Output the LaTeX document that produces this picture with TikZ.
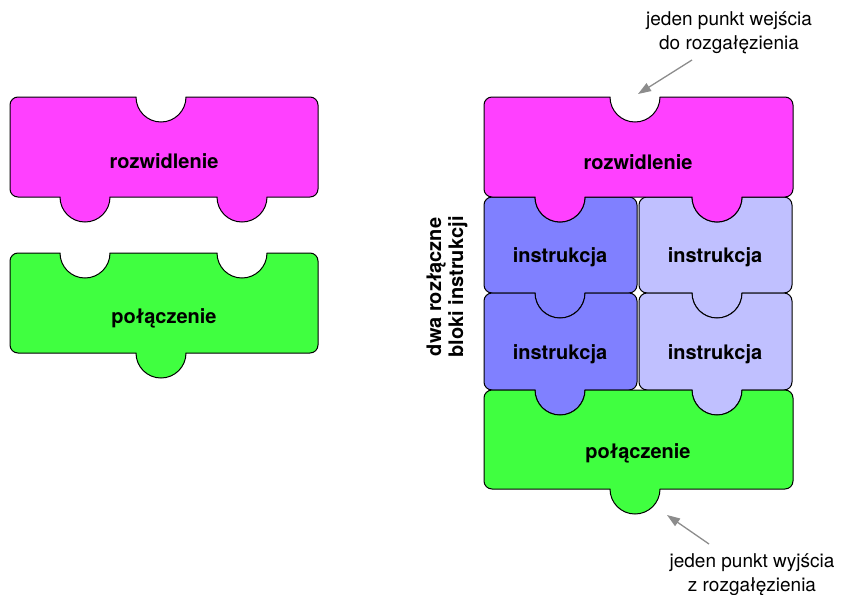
\documentclass[tikz,border=0pt]{standalone}
\usepackage{fontspec}
\setmainfont{TeX Gyre Heros}
\usetikzlibrary{arrows.meta}
\definecolor{pmag}{HTML}{FF40FF}
\definecolor{pgreen}{HTML}{40FF40}
\definecolor{pblue}{HTML}{8080FF}
\definecolor{plblue}{HTML}{C0C0FF}
\definecolor{parrow}{HTML}{8C8C8C}
% #1 fill, #2 left, #3 top, #4 width, #5 height, #6 top notches (increasing), #7 bottom tabs (decreasing)
\newcommand\puzzlepiece[7]{%
  \draw[piece,fill=#1] ({#2+8},{-#3})
    foreach \c in {#6} { -- ({#2+\c-25},{-#3}) arc[start angle=180,end angle=360,radius=25] }
    -- ({#2+#4-8},{-#3}) arc[start angle=90,end angle=0,radius=8]
    -- ({#2+#4},{-#3-#5+8}) arc[start angle=0,end angle=-90,radius=8]
    foreach \c in {#7} { -- ({#2+\c+25},{-#3-#5}) arc[start angle=0,end angle=-180,radius=25] }
    -- ({#2+8},{-#3-#5}) arc[start angle=-90,end angle=-180,radius=8]
    -- ({#2},{-#3-8}) arc[start angle=180,end angle=90,radius=8] -- cycle;}
\begin{document}
\begin{tikzpicture}[x=1pt,y=1pt,
  piece/.style={draw=black,line width=1pt},
  lbl/.style={font=\fontsize{20}{24}\selectfont\bfseries,inner sep=0pt},
  note/.style={font=\fontsize{19}{24}\selectfont,align=center,inner sep=0pt},
  arr/.style={draw=parrow,line width=1.3pt,-{Triangle[length=13pt,width=9pt]}}]
\useasboundingbox (0,0) rectangle (847,-595);
% left pieces
\puzzlepiece{pmag}{10}{97}{308}{100}{151}{232,75}
\puzzlepiece{pgreen}{10}{253}{308}{100}{75,232}{151}
\node[lbl] (rozL) at (164,-161) {rozwidlenie};
\node[lbl] (polL) at (164,-318) {połączenie};
% right stack
\puzzlepiece{pblue}{484}{197}{153}{96}{76}{76}
\puzzlepiece{plblue}{639}{197}{153}{96}{78}{78}
\puzzlepiece{pblue}{484}{293}{153}{97}{76}{76}
\puzzlepiece{plblue}{639}{293}{153}{97}{78}{78}
\puzzlepiece{pmag}{484}{97}{309}{100}{151}{233,76}
\puzzlepiece{pgreen}{484}{390}{309}{99}{76,233}{151}
\node[lbl] (rozR) at (638,-162) {rozwidlenie};
\node[lbl] (i1) at (560,-257) {instrukcja};
\node[lbl] (i2) at (715,-257) {instrukcja};
\node[lbl] (i3) at (560,-354) {instrukcja};
\node[lbl] (i4) at (715,-354) {instrukcja};
\node[lbl] (polR) at (638,-453) {połączenie};
% side label
\node[lbl,rotate=90,align=center,font=\fontsize{20}{22}\selectfont\bfseries] (side) at (447,-287) {dwa rozłączne\\bloki instrukcji};
% annotations
\node[note] (topnote) at (729,-33) {jeden punkt wejścia\\do rozgałęzienia};
\node[note] (botnote) at (752,-575) {jeden punkt wyjścia\\z rozgałęzienia};
\coordinate (a1s) at (692,-60);
\coordinate (a1e) at (638,-94);
\coordinate (a2s) at (709,-544);
\coordinate (a2e) at (667,-515);
\draw[arr] (a1s) -- (a1e);
\draw[arr] (a2s) -- (a2e);
\end{tikzpicture}
\end{document}
